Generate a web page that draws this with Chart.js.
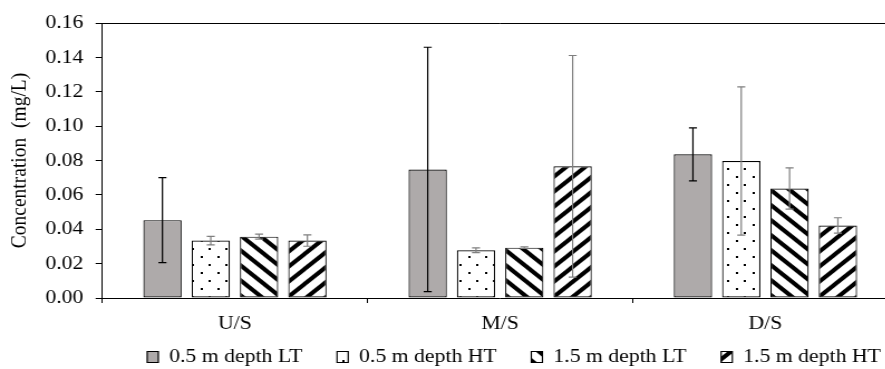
<!DOCTYPE html>
<html>
<head>
<meta charset="utf-8">
<script src="https://cdn.jsdelivr.net/npm/chart.js@4/dist/chart.umd.min.js"></script>
<style>
  html, body { margin: 0; padding: 0; background: #fff; overflow: hidden; }
  #wrap { width: 922px; height: 369px; transform: scaleX(1.115); transform-origin: 0 0; }
</style>
</head>
<body>
<div id="wrap"><canvas id="c" width="922" height="369"></canvas></div>
<script>
// Sampling sites
const categories = ['U/S', 'M/S', 'D/S'];

// Series names
const seriesNames = ['0.5 m depth LT', '0.5 m depth HT', '1.5 m depth LT', '1.5 m depth HT'];

// Mean concentrations (mg/L)
const depth05LT = [0.0453, 0.0748, 0.0836];
const depth05HT = [0.0334, 0.0278, 0.0797];
const depth15LT = [0.0357, 0.0293, 0.0637];
const depth15HT = [0.0334, 0.0766, 0.0422];

// Error bar half-lengths (mg/L)
const err05LT = [0.0247, 0.0711, 0.0154];
const err05HT = [0.0025, 0.0014, 0.0431];
const err15LT = [0.0015, 0.0005, 0.0120];
const err15HT = [0.0033, 0.0645, 0.0045];

// Y axis ticks
const yTicks = [0.00, 0.02, 0.04, 0.06, 0.08, 0.10, 0.12, 0.14, 0.16];

const means = [depth05LT, depth05HT, depth15LT, depth15HT];
const errors = [err05LT, err05HT, err15LT, err15HT];
const errColors = ['#000000', '#7f7f7f', '#7f7f7f', '#7f7f7f'];

// Fill patterns
function tile(w, h, draw) {
  const c = document.createElement('canvas');
  c.width = w; c.height = h;
  const g = c.getContext('2d');
  g.fillStyle = '#fff';
  g.fillRect(0, 0, w, h);
  draw(g, w, h);
  return g.createPattern(c, 'repeat');
}
const dots = tile(15, 16, (g) => {
  g.fillStyle = '#000';
  g.fillRect(0, 0, 2, 2);
  g.fillRect(7, 8, 2, 2);
});
function stripes(down) {
  return tile(17, 15, (g, w, h) => {
    g.strokeStyle = '#000';
    g.lineWidth = 4;
    g.lineCap = 'square';
    for (let k = -1; k <= 1; k++) {
      g.beginPath();
      if (down) { g.moveTo(k * w, 0); g.lineTo(k * w + w, h); }
      else { g.moveTo(k * w, h); g.lineTo(k * w + w, 0); }
      g.stroke();
    }
  });
}
const fills = ['#aeaaaa', dots, stripes(true), stripes(false)];

const errorBars = {
  id: 'errorBars',
  afterDatasetsDraw(chart) {
    const ctx = chart.ctx;
    const y = chart.scales.y;
    ctx.save();
    ctx.lineWidth = 1.2;
    means.forEach((vals, i) => {
      const meta = chart.getDatasetMeta(i);
      ctx.strokeStyle = errColors[i];
      meta.data.forEach((bar, j) => {
        const top = y.getPixelForValue(vals[j] + errors[i][j]);
        const bot = y.getPixelForValue(vals[j] - errors[i][j]);
        const x = bar.x, cap = 3.6;
        ctx.beginPath();
        ctx.moveTo(x, top); ctx.lineTo(x, bot);
        ctx.moveTo(x - cap, top); ctx.lineTo(x + cap, top);
        ctx.moveTo(x - cap, bot); ctx.lineTo(x + cap, bot);
        ctx.stroke();
      });
    });
    ctx.restore();
  }
};

Chart.defaults.font.family = '"Times New Roman", "Liberation Serif", serif';
Chart.defaults.font.size = 19.5;
Chart.defaults.color = '#000';

new Chart(document.getElementById('c'), {
  type: 'bar',
  data: {
    labels: categories,
    datasets: means.map((vals, i) => ({
      label: seriesNames[i],
      data: vals,
      backgroundColor: fills[i],
      borderColor: '#000',
      borderWidth: 1.2,
      borderSkipped: false,
      categoryPercentage: 0.7286,
      barPercentage: 0.793
    }))
  },
  options: {
    responsive: false,
    animation: false,
    devicePixelRatio: 1,
    layout: { padding: { top: 23, bottom: -7.75, left: 0, right: 0 } },
    plugins: {
      legend: {
        position: 'bottom',
        labels: { boxWidth: 10, boxHeight: 11, padding: 31 }
      },
      tooltip: { enabled: false }
    },
    scales: {
      x: {
        grid: { display: true, drawOnChartArea: false, color: '#000', tickLength: 5, offset: true },
        border: { display: true, color: '#000', width: 1 },
        // labels sit below the axis line, outside the short axis box
        ticks: { mirror: true, padding: -37.7 },
        afterFit(s) { s.height = 18.25; }
      },
      y: {
        min: 0,
        max: 0.16,
        afterBuildTicks(s) { s.ticks = yTicks.map(v => ({ value: v })); },
        ticks: { padding: 11, callback: v => v.toFixed(2) },
        grid: {
          drawOnChartArea: true,
          color: c => (c.tick && Math.abs(c.tick.value - 0.16) < 1e-9) ? '#000' : 'rgba(0,0,0,0)',
          tickColor: '#000',
          tickLength: 6
        },
        border: { display: true, color: '#000', width: 1 },
        title: { display: true, text: 'Concentration  (mg/L)', padding: { top: 6, bottom: 0 } },
        afterFit(s) { s.width = 91.75; }
      },
      yR: {
        type: 'linear',
        position: 'right',
        display: true,
        grid: { display: false },
        border: { display: false },
        ticks: { display: false },
        afterFit(s) { s.width = 116.6; }
      }
    }
  },
  plugins: [errorBars]
});
</script>
</body>
</html>
